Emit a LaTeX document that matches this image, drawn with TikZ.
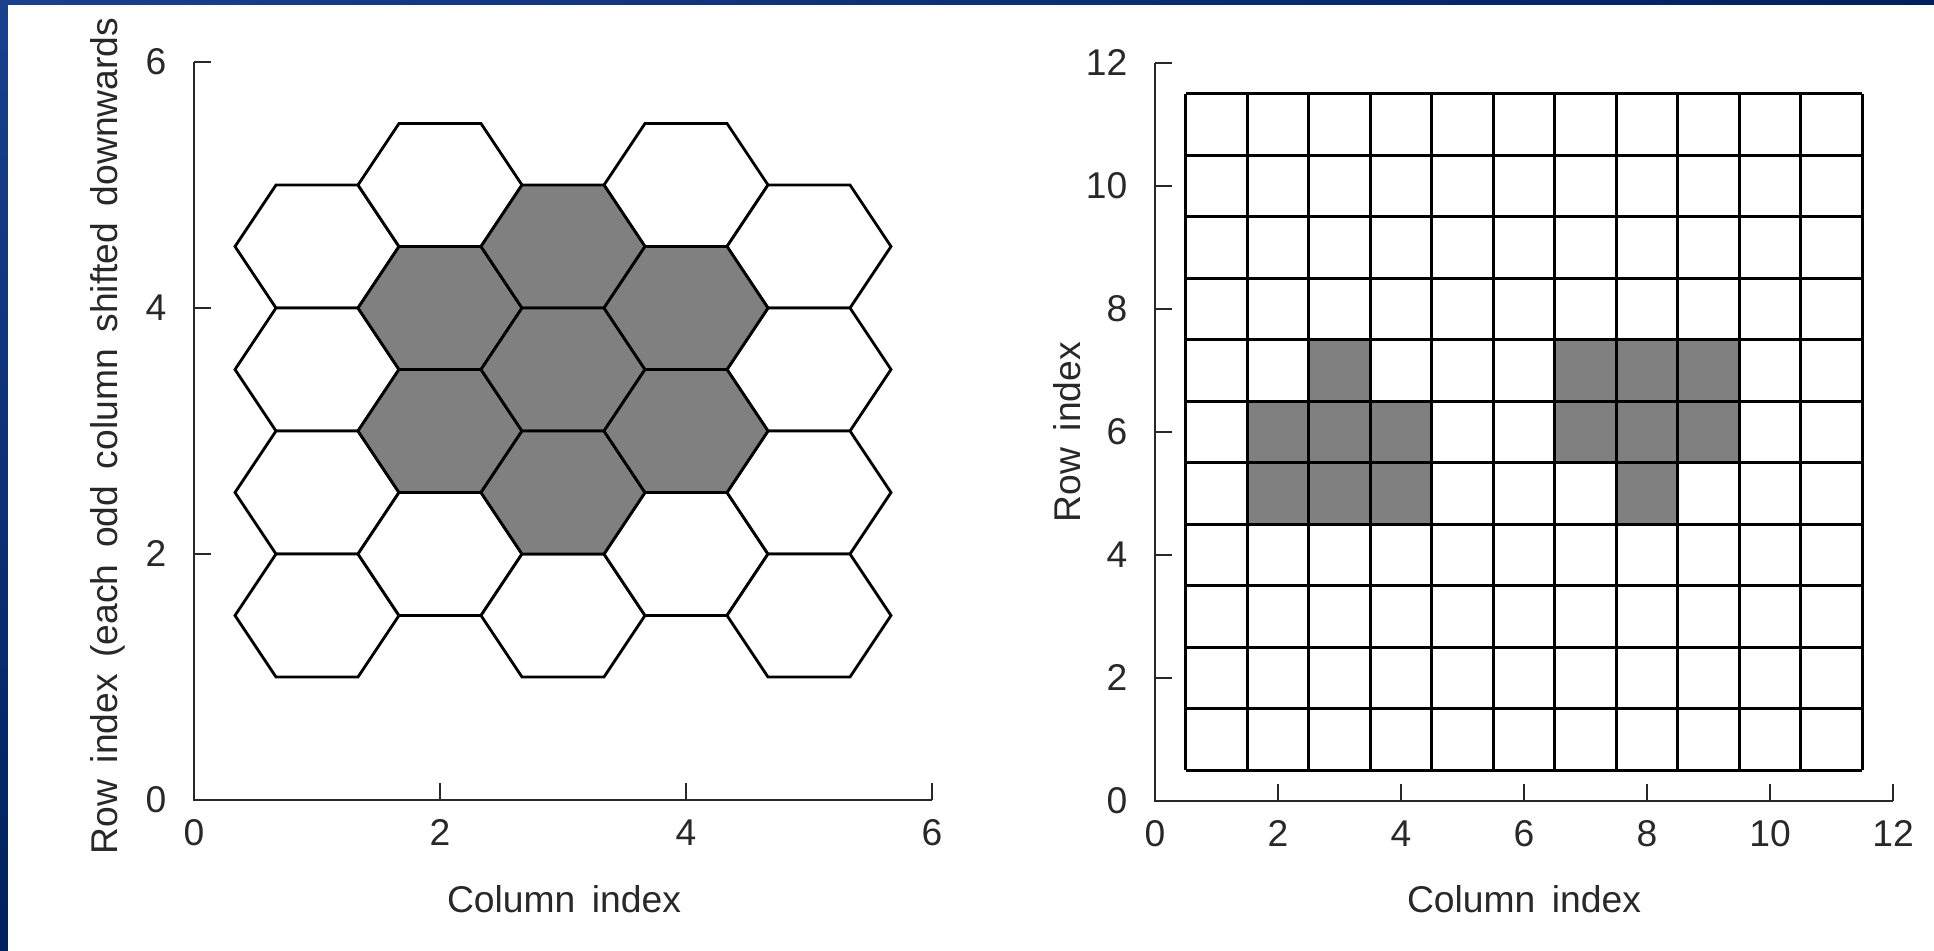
\documentclass[tikz,border=0pt]{standalone}
\usepackage{fontspec}
\setmainfont{Liberation Sans}[WordSpace=1.6]
\usepackage{tikz}
\usetikzlibrary{positioning,shadings}
\definecolor{framenavy}{RGB}{0,32,96}
\definecolor{framelight}{RGB}{26,64,142}
\definecolor{cellgray}{RGB}{128,128,128}
\definecolor{inkgray}{RGB}{40,40,40}

\tikzset{
  axisline/.style={draw=inkgray,line width=0.6pt},
  ticklabel/.style={inner sep=0pt,text=inkgray,font=\fontsize{10.6}{12}\selectfont},
  axislabel/.style={inner sep=0pt,text=inkgray,font=\fontsize{10.6}{12}\selectfont},
  hexcell/.style={draw=black,line width=0.8pt,line join=miter},
  gridcell/.style={draw=black,line width=0.9pt}
}

\begin{document}
\begin{tikzpicture}
\useasboundingbox (0,0) rectangle (19.34,9.51);
% frame
\shade[upper left=framelight,upper right=framenavy,lower left=framenavy,lower right=framenavy]
  (0,0) rectangle (19.34,9.51);
\fill[white] (0.08,0) rectangle (19.34,9.46);

% left panel: hexagonal layout
\begin{scope}[shift={(1.94,1.51)},x=1.23cm,y=1.23cm]
  \foreach \x/\y in {1/4.5,1/3.5,1/2.5,1/1.5,2/5,2/2,3/1.5,4/5,4/2,5/4.5,5/3.5,5/2.5,5/1.5}
    \draw[hexcell,fill=white] ({\x-2/3},\y) -- ({\x-1/3},\y+0.5) -- ({\x+1/3},\y+0.5)
      -- ({\x+2/3},\y) -- ({\x+1/3},\y-0.5) -- ({\x-1/3},\y-0.5) -- cycle;
  \foreach \x/\y in {2/4,2/3,3/4.5,3/3.5,3/2.5,4/4,4/3}
    \draw[hexcell,fill=cellgray] ({\x-2/3},\y) -- ({\x-1/3},\y+0.5) -- ({\x+1/3},\y+0.5)
      -- ({\x+2/3},\y) -- ({\x+1/3},\y-0.5) -- ({\x-1/3},\y-0.5) -- cycle;
  \draw[axisline] (0,6) -- (0,0) -- (6,0);
  \foreach \t in {0,2,4,6}{
    \draw[axisline] (\t,0) -- ++(0,0.17cm);
    \draw[axisline] (0,\t) -- ++(0.17cm,0);
    \node[ticklabel] (lxt\t) at ([yshift=-0.33cm]\t,0) {\t};
    \node[ticklabel,anchor=east] (lyt\t) at ([xshift=-0.27cm]0,\t) {\t};
  }
\end{scope}
\node[axislabel,anchor=base] (lxlab) at (5.64,0.38) {Column index};
\node[axislabel,rotate=90,anchor=base west] (lylab) at (1.17,0.96)
  {Row index (each odd column shifted downwards};

% right panel: rectangular layout
\begin{scope}[shift={(11.55,1.50)},x=0.615cm,y=0.615cm]
  \foreach \x/\y in {3/7,2/6,3/6,4/6,2/5,3/5,4/5,7/7,8/7,9/7,7/6,8/6,9/6,8/5}
    \fill[cellgray] ({\x-0.5},{\y-0.5}) rectangle ({\x+0.5},{\y+0.5});
  \foreach \k in {0,...,11}{
    \draw[gridcell] ({\k+0.5},0.5) -- ({\k+0.5},11.5);
    \draw[gridcell] (0.5,{\k+0.5}) -- (11.5,{\k+0.5});
  }
  \draw[axisline] (0,12) -- (0,0) -- (12,0);
  \foreach \t in {0,2,...,12}{
    \draw[axisline] (\t,0) -- ++(0,0.17cm);
    \draw[axisline] (0,\t) -- ++(0.17cm,0);
    \node[ticklabel] (rxt\t) at ([yshift=-0.33cm]\t,0) {\t};
    \node[ticklabel,anchor=east] (ryt\t) at ([xshift=-0.27cm]0,\t) {\t};
  }
\end{scope}
\node[axislabel,anchor=base] (rxlab) at (15.24,0.38) {Column index};
\node[axislabel,rotate=90,anchor=base] (rylab) at (10.80,5.19) {Row index};
\end{tikzpicture}
\end{document}
